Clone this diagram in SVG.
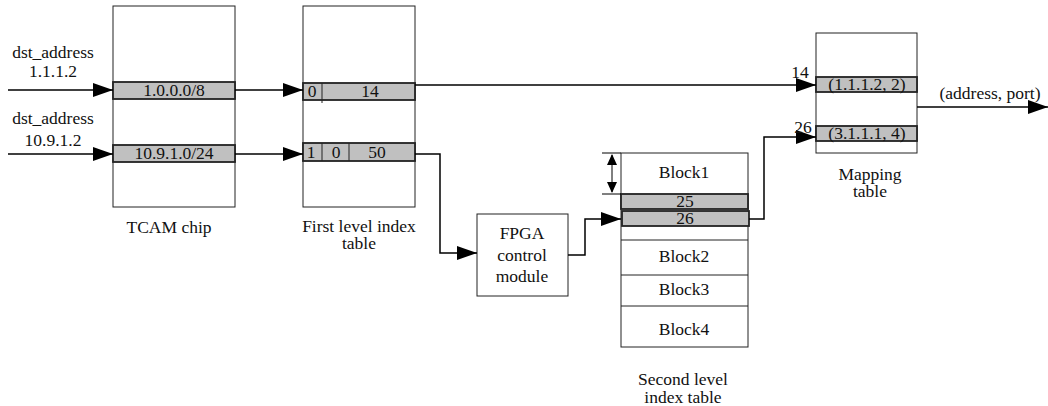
<svg xmlns="http://www.w3.org/2000/svg" width="1048" height="406" viewBox="0 0 1048 406">
<style>
text{font-family:"Liberation Serif","Times New Roman",serif;font-size:17.5px;fill:#111;text-anchor:middle}
.box{fill:#fff;stroke:#222;stroke-width:1}
.row{fill:#c0c0c0;stroke:#222;stroke-width:1.8}
.div{stroke:#222;stroke-width:1}
.con{fill:none;stroke:#000;stroke-width:1.5}
.thin{fill:none;stroke:#000;stroke-width:1}
</style>
<defs>
<marker id="ah" markerUnits="userSpaceOnUse" markerWidth="21" markerHeight="14" refX="20" refY="7" orient="auto">
<path d="M0,0 L20,7 L0,14 Z" fill="#000"/>
</marker>
<marker id="sa" markerUnits="userSpaceOnUse" markerWidth="11" markerHeight="11" refX="10" refY="5" orient="auto-start-reverse">
<path d="M0,0 L11,5 L0,10 Z" fill="#000"/>
</marker>
</defs>
<rect width="1048" height="406" fill="#fff"/>

<g id="input-labels">
<text x="53" y="58">dst_address</text>
<text x="53" y="77">1.1.1.2</text>
<text x="53" y="124">dst_address</text>
<text x="53" y="146">10.9.1.2</text>
</g>

<g id="tcam">
<rect class="box" x="113" y="6" width="122" height="201"/>
<rect class="row" x="113" y="82" width="122" height="17"/>
<text x="174" y="96">1.0.0.0/8</text>
<rect class="row" x="113" y="145" width="122" height="17"/>
<text x="174" y="159">10.9.1.0/24</text>
<text x="169" y="233">TCAM chip</text>
</g>

<g id="first-level">
<rect class="box" x="303" y="6" width="112" height="201"/>
<rect class="row" x="303" y="83" width="112" height="17"/>
<line class="div" x1="322" y1="83" x2="322" y2="103"/>
<text x="312" y="97">0</text>
<text x="370" y="97">14</text>
<rect class="row" x="303" y="143" width="112" height="18"/>
<line class="div" x1="322" y1="143" x2="322" y2="161"/>
<line class="div" x1="349" y1="143" x2="349" y2="161"/>
<text x="311" y="158">1</text>
<text x="336" y="158">0</text>
<text x="377" y="158">50</text>
<text x="359" y="232">First level index</text>
<text x="359" y="249">table</text>
</g>

<g id="fpga">
<rect class="box" x="477" y="214" width="91" height="82"/>
<text x="522" y="239">FPGA</text>
<text x="522" y="261">control</text>
<text x="522" y="282">module</text>
</g>

<g id="second-level">
<rect class="box" x="621" y="153" width="127" height="194"/>
<line class="div" x1="621" y1="240" x2="748" y2="240"/>
<line class="div" x1="621" y1="275" x2="748" y2="275"/>
<line class="div" x1="621" y1="306" x2="748" y2="306"/>
<rect class="row" x="621" y="194" width="127" height="15"/>
<text x="685" y="207">25</text>
<rect class="row" x="622" y="211" width="127" height="15"/>
<text x="685" y="224">26</text>
<text x="684" y="178">Block1</text>
<text x="684" y="262">Block2</text>
<text x="684" y="295">Block3</text>
<text x="684" y="335">Block4</text>
<text x="683" y="385">Second level</text>
<text x="683" y="403">index table</text>
</g>

<g id="mapping">
<rect class="box" x="816" y="33" width="101" height="120"/>
<rect class="row" x="816" y="77" width="101" height="15"/>
<text x="867" y="90">(1.1.1.2, 2)</text>
<rect class="row" x="816" y="126" width="101" height="15"/>
<text x="867" y="139">(3.1.1.1, 4)</text>
<text x="870" y="180">Mapping</text>
<text x="870" y="197">table</text>
</g>

<g id="connectors">
<path class="con" d="M8,90 H113" marker-end="url(#ah)"/>
<path class="con" d="M8,154 H113" marker-end="url(#ah)"/>
<path class="con" d="M235,90 H303" marker-end="url(#ah)"/>
<path class="con" d="M235,154 H303" marker-end="url(#ah)"/>
<path class="con" d="M415,85 H816" marker-end="url(#ah)"/>
<path class="con" d="M415,154 H440 V253 H477" marker-end="url(#ah)"/>
<path class="con" d="M568,255 H585 V219 H621" marker-end="url(#ah)"/>
<path class="con" d="M749,219 H764 V137 H816" marker-end="url(#ah)"/>
<path class="con" d="M917,107 H1048" marker-end="url(#ah)"/>
<path class="thin" d="M612,155 V192" marker-start="url(#sa)" marker-end="url(#sa)"/>
<path class="thin" d="M602,153 H621 M602,194 H621"/>
<text x="800" y="78">14</text>
<text x="803" y="133">26</text>
<text x="990" y="99">(address, port)</text>
</g>
</svg>
